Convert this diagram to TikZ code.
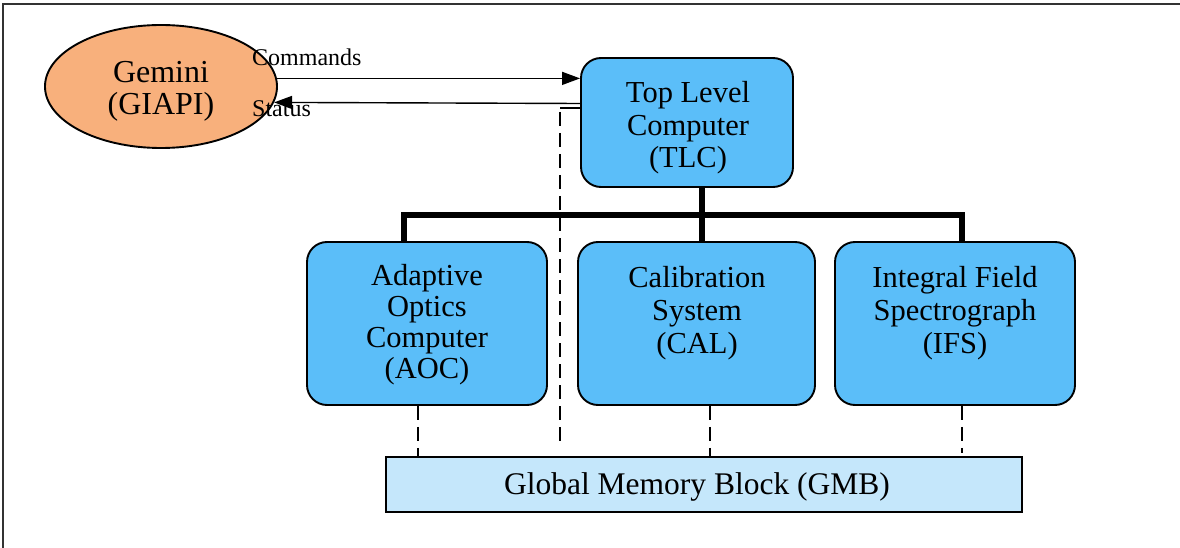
\documentclass[tikz,border=0pt]{standalone}
\usepackage{fontspec}
\setmainfont{Liberation Serif}
\usetikzlibrary{arrows.meta,shapes.geometric,calc}
\definecolor{gemfill}{HTML}{F8B07C}
\definecolor{boxfill}{HTML}{5BBEF9}
\definecolor{gmbfill}{HTML}{C5E7FB}
\newcommand{\lines}[1]{\begin{tabular}[t]{@{}c@{}}#1\end{tabular}}
\begin{document}
\begin{tikzpicture}[x=1pt,y=1pt,
  box/.style={draw=black, line width=1.9pt, fill=boxfill, rounded corners=20pt, inner sep=0pt},
  btext/.style={anchor=base, inner sep=0pt, font=\fontsize{30.5}{#1}\selectfont},
  btext/.default=33,
  lbl/.style={anchor=base west, font=\fontsize{24}{26}\selectfont, inner sep=0pt},
  arr/.style={line width=1.4pt, -{Triangle[length=18pt,width=13pt]}},
  bus/.style={line width=5.5pt, line join=miter},
  dline/.style={line width=2pt, dash pattern=on 14pt off 7pt},
  frame/.style={line width=2pt, draw=black!80}
]
\renewcommand{\arraystretch}{1}
\setlength{\tabcolsep}{0pt}
\useasboundingbox (0,0) rectangle (1180,-548);
\fill[white] (0,0) rectangle (1180,-548);
\draw[frame] (3,-548) -- (3,-4) -- (1180,-4);

% shapes
\node[ellipse, draw=black, line width=1.9pt, fill=gemfill, minimum width=232, minimum height=123,
  inner sep=0pt] (gem) at (161,-86.5) {};
\node[box, minimum width=212, minimum height=129] (tlc) at (687,-122.5) {};
\node[box, minimum width=240, minimum height=163] (aoc) at (427,-323.5) {};
\node[box, minimum width=237, minimum height=163] (cal) at (696.5,-323.5) {};
\node[box, minimum width=240, minimum height=163] (ifs) at (955,-323.5) {};
\node[draw=black, line width=2.2pt, fill=gmbfill, minimum width=636, minimum height=55,
  inner sep=0pt] (gmb) at (704,-484.5) {};

% texts
\node[btext=32, font=\fontsize{32}{32}\selectfont] (gemt) at (161,-83) {\lines{Gemini\\(GIAPI)}};
\node[btext=32.5] (tlct) at (688,-103) {\lines{Top Level\\Computer\\(TLC)}};
\node[btext=31] (aoct) at (427,-285) {\lines{Adaptive\\Optics\\Computer\\(AOC)}};
\node[btext=33] (calt) at (697,-287) {\lines{Calibration\\System\\(CAL)}};
\node[btext=33] (ifst) at (955,-287) {\lines{Integral Field\\Spectrograph\\(IFS)}};
\node[btext, font=\fontsize{31.5}{33}\selectfont] (gmbt) at (697,-494) {Global Memory Block (GMB)};

% labels
\node[lbl] (cmd) at (252,-65.5) {Commands};
\node[lbl] (sts) at (252,-117) {Status};

% command / status arrows
\draw[arr] (gem.4.2) -- (gem.4.2 -| tlc.west);
\coordinate (stsstart) at ([yshift=19pt]tlc.west);
\draw[arr] (stsstart) -- (gem.-8.7);

% bus
\coordinate (b1) at (404,-215);
\coordinate (b2) at (702,-215);
\coordinate (b3) at (962,-215);
\draw[bus] (b1 |- aoc.north) -- (b1) -- (b3) -- (b3 |- ifs.north);
\draw[bus] (b2 |- tlc.south) -- (b2 |- cal.north);

% dashed links to GMB
\coordinate (dend) at (560,-447);
\draw[line width=1.6pt] ([yshift=14.5pt]tlc.west) -- ([yshift=14.5pt]tlc.west -| dend);
\draw[dline] ([yshift=14.5pt]tlc.west -| dend) ++(0,-4) -- (dend);
\coordinate (d1) at (418,0);
\coordinate (d2) at (710,0);
\coordinate (d3) at (962,0);
\coordinate (d3end) at (962,-453);
\draw[dline] (d1 |- aoc.south) -- (d1 |- gmb.north);
\draw[dline] (d2 |- cal.south) -- (d2 |- gmb.north);
\draw[dline] (d3 |- ifs.south) -- (d3end);
\end{tikzpicture}
\end{document}
